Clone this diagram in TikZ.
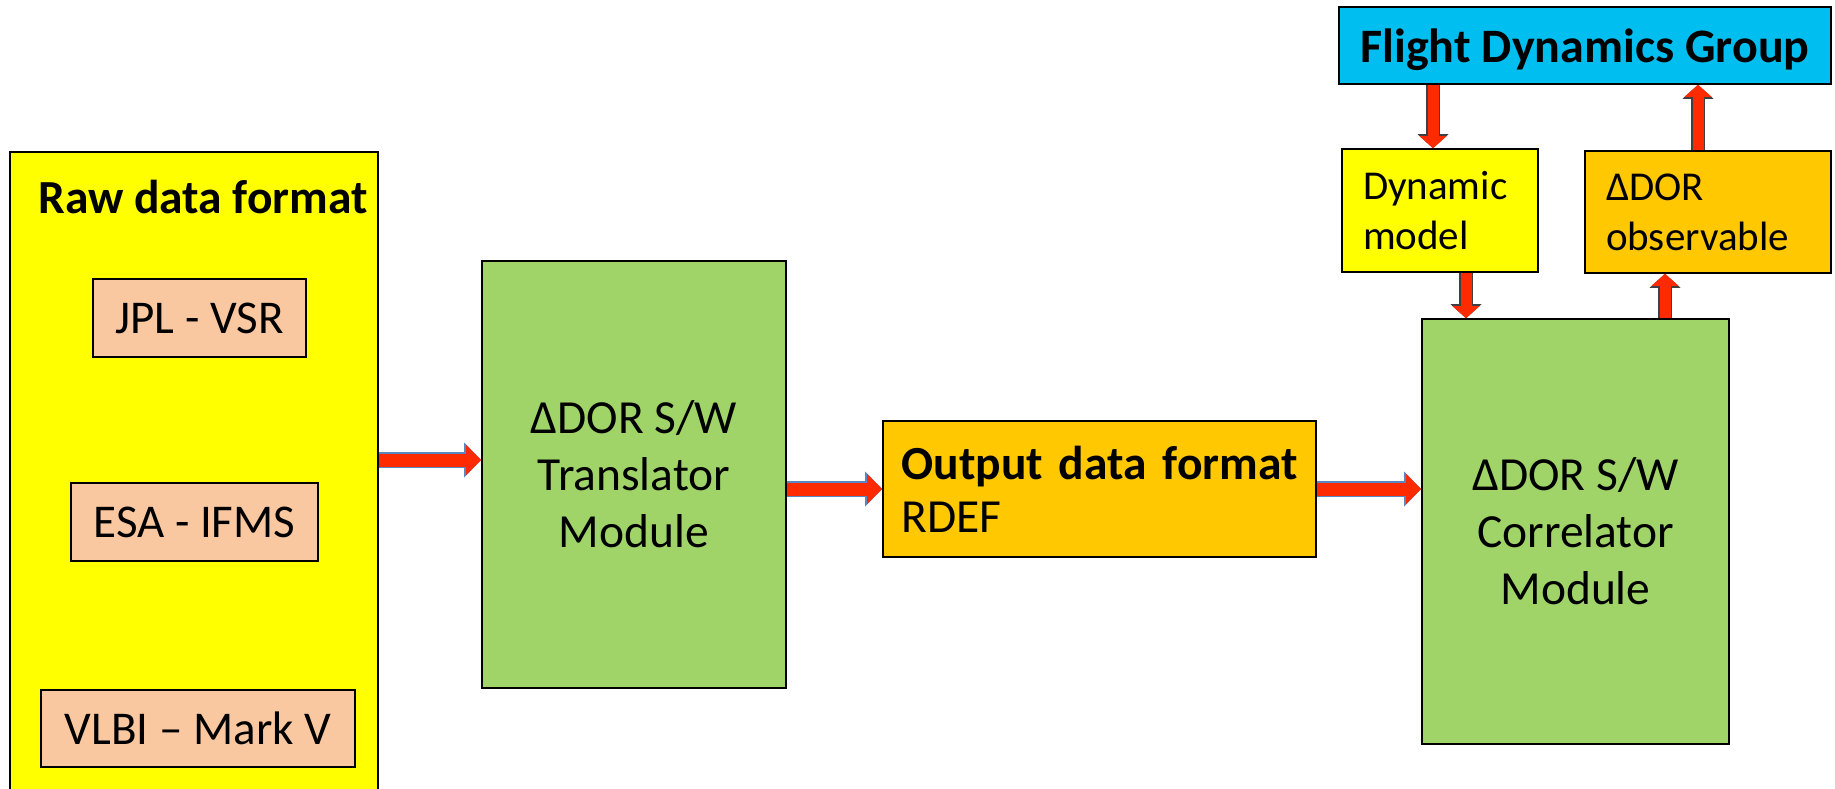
\documentclass[tikz,border=0pt]{standalone}
\usepackage{fontspec}
\setmainfont{Carlito}
\usetikzlibrary{arrows.meta}

\definecolor{rawyellow}{HTML}{FFFF00}
\definecolor{peach}{HTML}{FAC8A0}
\definecolor{modgreen}{HTML}{A0D468}
\definecolor{fmtorange}{HTML}{FFC800}
\definecolor{fdgblue}{HTML}{00BFF0}
\definecolor{flowred}{HTML}{FF2A00}
\definecolor{flowedge}{HTML}{5B87C0}

\tikzset{
  box/.style={draw=black,line width=1.6pt,inner sep=0pt,align=center},
  bigtxt/.style={font=\fontsize{47}{53}\selectfont},
  boldtxt/.style={font=\bfseries\fontsize{47.5}{55}\selectfont},
  modtxt/.style={font=\fontsize{47.5}{57}\selectfont},
  smalltxt/.style={font=\fontsize{41}{50}\selectfont},
  flow/.style={draw=flowred,line width=13pt,-{Triangle[length=15pt,width=30pt,line width=0pt]},
    preaction={draw=flowedge,line width=16pt,-{Triangle[length=17pt,width=35pt,line width=0pt]}}},
  vflow/.style={draw=flowred,line width=11pt,-{Triangle[length=12pt,width=27pt,line width=0pt]},
    preaction={draw=black!75,line width=13.5pt,-{Triangle[length=14pt,width=31pt,line width=0pt]}}}
}

\begin{document}
\begin{tikzpicture}[x=1pt,y=-1pt]
\useasboundingbox (0,0) rectangle (1835,788);
\clip (0,0) rectangle (1835,788);

\node (raw) at (194,482) [box,fill=rawyellow,minimum width=368pt,minimum height=660pt] {};
\node (rawtitle) at (203,213) [anchor=base,boldtxt] {Raw data format};
\node (jpl) at (199.5,318) [box,fill=peach,bigtxt,minimum width=213pt,minimum height=78pt] {JPL - VSR};
\node (esa) at (194.5,522) [box,fill=peach,bigtxt,minimum width=247pt,minimum height=78pt] {ESA - IFMS};
\node (vlbi) at (198,728.5) [box,fill=peach,bigtxt,minimum width=314pt,minimum height=77pt] {VLBI – Mark V};

\node (trans) at (634,474.5) [box,fill=modgreen,modtxt,minimum width=304pt,minimum height=427pt] {ΔDOR S/W\\Translator\\Module};
\node (out) at (1099.5,489) [box,fill=fmtorange,bigtxt,font=\fontsize{47.5}{53}\selectfont,minimum width=433pt,minimum height=136pt,text width=396pt,align=left] {\textbf{Output data format}\\RDEF};
\node (corr) at (1575.5,531.5) [box,fill=modgreen,modtxt,minimum width=307pt,minimum height=425pt] {ΔDOR S/W\\Correlator\\Module};

\node (fdg) at (1585,45.5) [box,fill=fdgblue,boldtxt,font=\bfseries\fontsize{48}{55}\selectfont,text depth=0pt,minimum width=492pt,minimum height=77pt] {Flight Dynamics Group};
\node (dyn) at (1440,210.5) [box,fill=rawyellow,smalltxt,minimum width=196pt,minimum height=123pt,text width=154pt,align=left] {Dynamic\\model};
\node (obs) at (1708,212) [box,fill=fmtorange,smalltxt,minimum width=246pt,minimum height=122pt,text width=204pt,align=left] {ΔDOR\\observable};

\draw [flow] (raw.east |- 0,460) -- (trans.west |- 0,460);
\draw [flow] (trans.east |- out.west) -- (out.west);
\draw [flow] (out.east) -- (out.east -| corr.west);
\draw [vflow] ([xshift=-7pt]dyn.north |- fdg.south) -- ([xshift=-7pt]dyn.north);
\draw [vflow] ([xshift=26pt]dyn.south) -- ([xshift=26pt]dyn.south |- corr.north);
\draw [vflow] ([xshift=-43pt]obs.south |- corr.north) -- ([xshift=-43pt]obs.south);
\draw [vflow] ([xshift=-10pt]obs.north) -- ([xshift=-10pt]obs.north |- fdg.south);
\end{tikzpicture}
\end{document}
